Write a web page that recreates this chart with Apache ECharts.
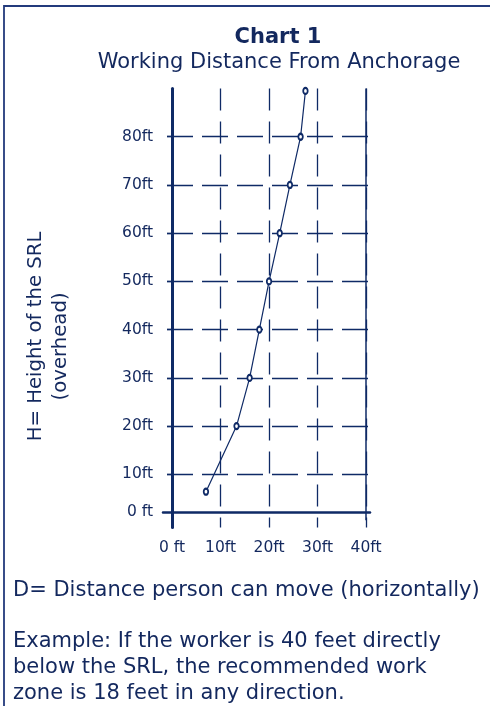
<!DOCTYPE html>
<html>
<head>
<meta charset="utf-8">
<script src="https://cdn.jsdelivr.net/npm/echarts@6/dist/echarts.min.js"></script>
<style>
  html, body { margin: 0; padding: 0; background: #ffffff; }
  #chart { width: 490px; height: 706px; }
</style>
</head>
<body>
<div id="chart"></div>
<script>
// ---- data ----
const distanceFt = [7, 13.3, 16, 18, 20, 22.2, 24.3, 26.5, 27.5];   // D (horizontal)
const heightFt   = [6.4, 20, 30, 40, 50, 60, 70, 80, 89.5];          // H (overhead)

const xTickValues = [0, 10, 20, 30, 40];
const xTickLabels = ['0 ft', '10ft', '20ft', '30ft', '40ft'];
const yGridValues = [10, 20, 30, 40, 50, 60, 70, 80];
const yOriginValue = 2.2; // height level at which the drawn base line sits
const yLabelValues = [yOriginValue, 10, 20, 30, 40, 50, 60, 70, 80];
const yTickLabels = ['0 ft', '10ft', '20ft', '30ft', '40ft', '50ft', '60ft', '70ft', '80ft'];
const boundaryX = 40;               // solid right boundary line
const boundaryYRange = [0.5, 90];   // its vertical extent

const titleText = 'Chart 1';
const subtitleText = 'Working Distance From Anchorage';
const yNameLine1 = 'H= Height of the SRL';
const yNameLine2 = '(overhead)';
const noteD = 'D= Distance person can move (horizontally)';
const noteExample = 'Example: If the worker is 40 feet directly\nbelow the SRL, the recommended work\nzone is 18 feet in any direction.';

const NAVY = '#0f2a66';
const TEXT = '#13285e';
const FONT = '"DejaVu Sans", Verdana, sans-serif';

const points = distanceFt.map((d, i) => [d, heightFt[i]]);

const chart = echarts.init(document.getElementById('chart'), null, { renderer: 'canvas' });
chart.setOption({
  animation: false,
  backgroundColor: '#ffffff',
  textStyle: { fontFamily: FONT },
  title: [
    { text: titleText, left: 273, top: 22, textAlign: 'center',
      textStyle: { fontFamily: FONT, fontSize: 21, fontWeight: 'bold', color: TEXT } },
    { text: subtitleText, left: 274, top: 47, textAlign: 'center',
      textStyle: { fontFamily: FONT, fontSize: 21, fontWeight: 'normal', color: TEXT } },
    { text: noteD, left: 8, top: 575,
      textStyle: { fontFamily: FONT, fontSize: 21, fontWeight: 'normal', color: TEXT } },
    { text: noteExample, left: 8, top: 624,
      textStyle: { fontFamily: FONT, fontSize: 21, fontWeight: 'normal', color: TEXT, lineHeight: 25.8 } }
  ],
  graphic: [
    { type: 'rect', silent: true, z: -1,
      shape: { x: 4, y: 6, width: 600, height: 800 },
      style: { fill: 'none', stroke: '#233a7c', lineWidth: 1.8 } }
  ],
  grid: { left: 163, right: 120, top: 88.5, bottom: 178.6, containLabel: false, outerBoundsMode: 'none' },
  xAxis: {
    type: 'value', min: -1.85, max: 40.8,
    axisLine: { show: true, onZero: true, onZeroAxisIndex: 1, lineStyle: { color: NAVY, width: 2.5 } },
    axisTick: { show: false, customValues: xTickValues },
    axisLabel: { customValues: xTickValues, margin: 13, fontSize: 15.5, color: TEXT, fontFamily: FONT,
      formatter: v => xTickLabels[xTickValues.indexOf(v)] },
    splitLine: { show: true, lineStyle: { color: NAVY, width: 1.3, type: [22, 11] } }
  },
  yAxis: [
    {
      type: 'value', min: -1, max: 90,
      axisLine: { show: true, onZero: true, lineStyle: { color: NAVY, width: 3 } },
      axisTick: { show: true, length: 5, customValues: yGridValues, lineStyle: { color: NAVY, width: 1.3 } },
      axisLabel: { customValues: yLabelValues, margin: 10, fontSize: 15.5, color: TEXT, fontFamily: FONT,
        formatter: v => yTickLabels[yLabelValues.indexOf(v)] },
      splitLine: { show: true, lineStyle: { color: NAVY, width: 1.3, type: [26, 9], dashOffset: 31 } },
      name: '{a|' + yNameLine1 + '}\n{b|' + yNameLine2 + '}',
      nameLocation: 'middle', nameRotate: 90, nameGap: 90,
      nameTextStyle: {
        padding: [0, 57, 0, 0],
        rich: {
          a: { fontFamily: FONT, fontSize: 19.7, color: TEXT, lineHeight: 25, align: 'center' },
          b: { fontFamily: FONT, fontSize: 19.7, color: TEXT, lineHeight: 25, align: 'center', padding: [0, 20, 0, 0] }
        }
      }
    },
    { type: 'value', min: -1 - yOriginValue, max: 90 - yOriginValue, show: false }
  ],
  series: [{
    type: 'line',
    data: points,
    xAxisIndex: 0, yAxisIndex: 0,
    clip: false,
    symbol: 'emptyCircle', symbolSize: [4.5, 6],
    lineStyle: { color: NAVY, width: 1.2 },
    itemStyle: { color: NAVY, borderWidth: 1, borderColor: NAVY },
    markLine: {
      silent: true, symbol: 'none', label: { show: false },
      lineStyle: { color: NAVY, width: 1.5, type: 'solid' },
      data: [[{ xAxis: boundaryX, yAxis: boundaryYRange[1] }, { xAxis: boundaryX, yAxis: boundaryYRange[0] }]]
    }
  }]
});
</script>
</body>
</html>
